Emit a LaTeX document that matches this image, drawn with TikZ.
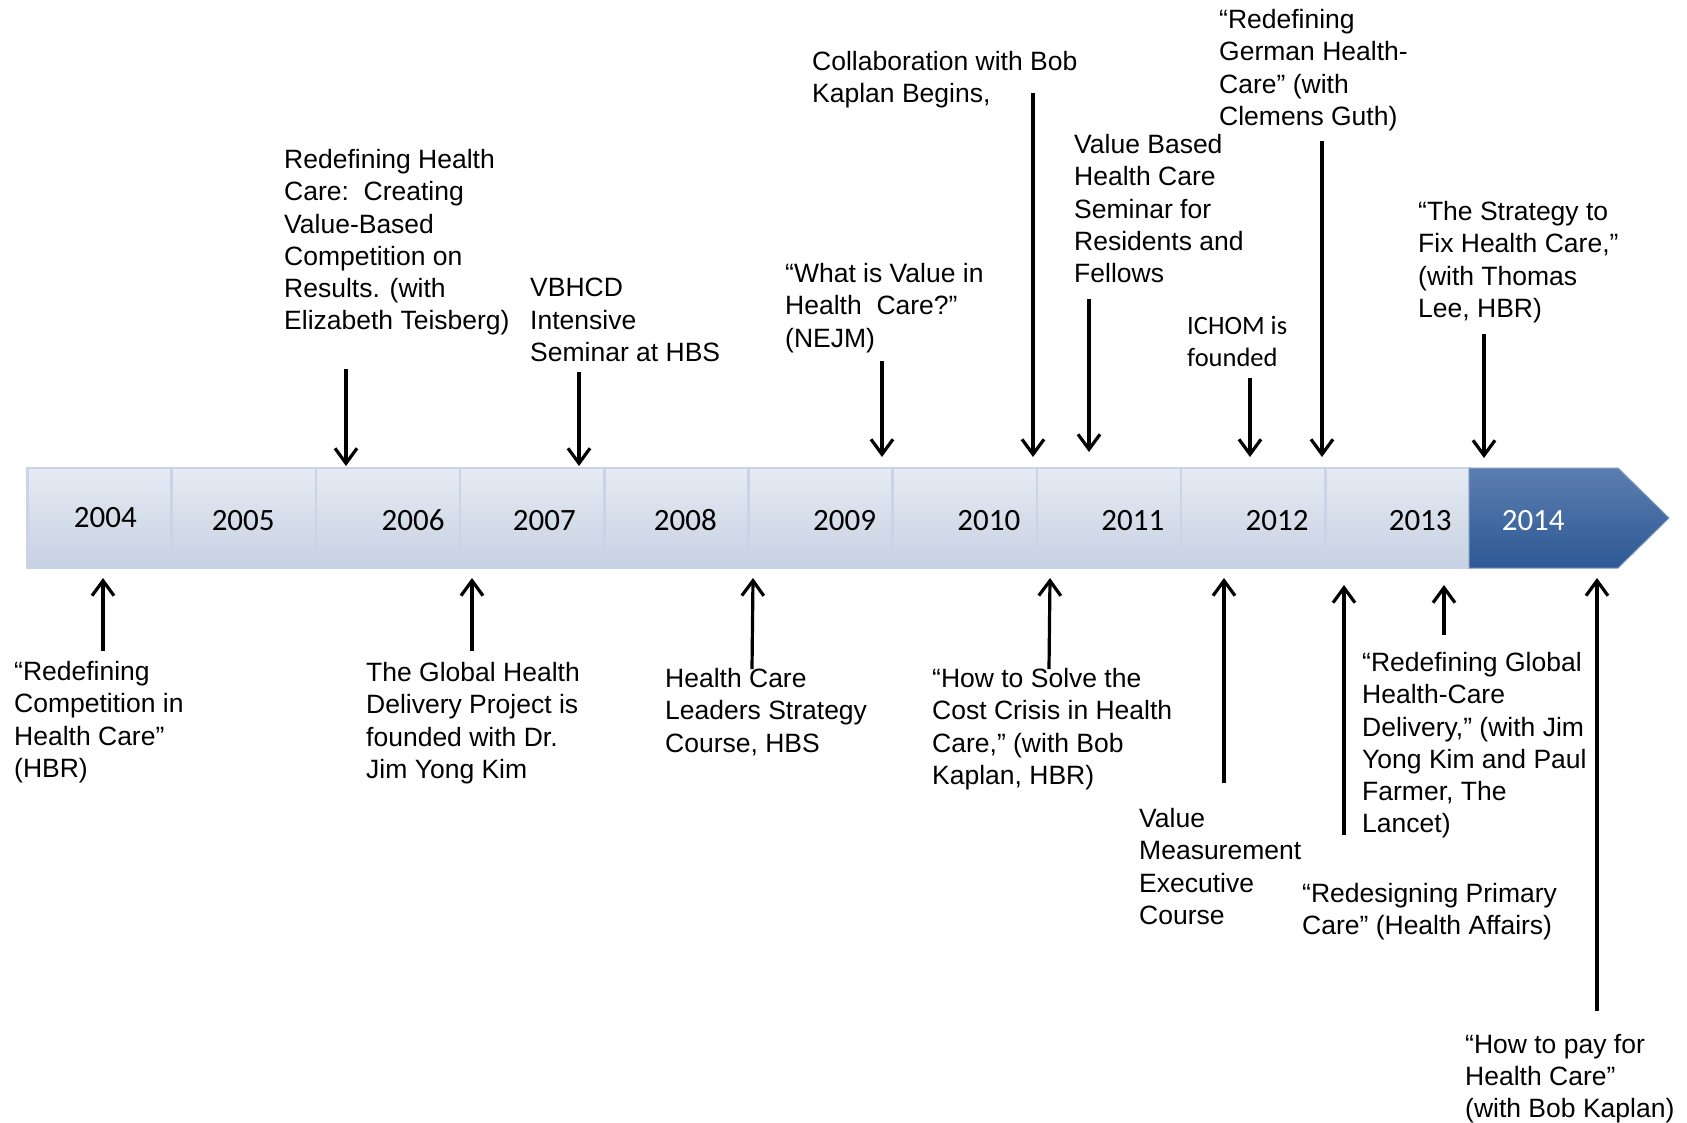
\documentclass[tikz,border=0pt]{standalone}
\usepackage{fontspec}
\setmainfont{Liberation Sans}
\newfontfamily\calib{Carlito}
\usetikzlibrary{arrows.meta}
\definecolor{segtop}{HTML}{E6EBF3}
\definecolor{segbot}{HTML}{C6D1E2}
\definecolor{segline}{HTML}{CAD4E8}
\definecolor{lasttop}{HTML}{5B7EB0}
\definecolor{lastbot}{HTML}{2D5894}
\begin{document}
\begin{tikzpicture}[x=1pt,y=-1pt,
  seg/.style={shape=rectangle, draw=segline, line width=2.5pt,
    top color=segtop, bottom color=segbot,
    minimum width=144.2pt, minimum height=100pt, inner sep=0pt},
  yr/.style={inner sep=0pt, anchor=center, font=\calib\fontsize{31}{36}\selectfont},
  lab/.style={anchor=north west, inner sep=0pt, align=left,
    font=\fontsize{26.5}{32.3}\selectfont},
  arr/.style={line width=3.2pt,
    -{Straight Barb[length=15pt,width=22pt,line width=3.2pt]}}]
\useasboundingbox (0,0) rectangle (1687,1122);

% timeline segments 2004-2013
\foreach \k/\yy in {0/2004,1/2005,2/2006,3/2007,4/2008,5/2009,6/2010,7/2011,8/2012,9/2013}{
  \node[seg] (s\yy) at ({27.5+144.2*\k+72.1},518) {};
}
% final arrow-shaped segment
\shade[top color=lasttop, bottom color=lastbot, draw=lasttop!80!white, line width=1pt]
  (1469,468) -- (1618,468) -- (1669,518) -- (1618,568) -- (1469,568) -- cycle;

% year labels
\foreach \yy/\xx/\yc in {2004/105.4/517.5,2005/243.2/520.5,2006/413.1/520.5,
  2007/544.4/520.5,2008/685.3/520.5,2009/844.6/520.5,2010/988.8/520.5,
  2011/1132.9/520.5,2012/1277.1/520.5,2013/1420.2/520.5}{
  \node[yr] (t\yy) at (\xx,\yc) {\yy};
}
\node[yr, text=white] (t2014) at (1533.2,520.5) {2014};

% events above the timeline
\node[lab] (e1) at (284,149) {Redefining Health\\Care:\ \ Creating\\Value-Based\\Competition on\\Results. (with\\Elizabeth Teisberg)};
\node[lab] (e2) at (530,278) {VBHCD\\Intensive\\Seminar at HBS};
\node[lab] (e3) at (785,263) {“What is Value in\\Health\ \ Care?”\\(NEJM)};
\node[lab] (e4) at (812,51) {Collaboration with Bob\\Kaplan Begins,};
\node[lab] (e5) at (1074,134) {Value Based\\Health Care\\Seminar for\\Residents and\\Fellows};
\node[lab] (e6) at (1219,9) {“Redefining\\German Health-\\Care” (with\\Clemens Guth)};
\node[lab, font=\calib\fontsize{26.5}{32.3}\selectfont] (e7) at (1187,316) {ICHOM is\\founded};
\node[lab] (e8) at (1418,201) {“The Strategy to\\Fix Health Care,”\\(with Thomas\\Lee, HBR)};

% events below the timeline
\node[lab] (f1) at (14,661) {“Redefining\\Competition in\\Health Care”\\(HBR)};
\node[lab] (f2) at (366,662) {The Global Health\\Delivery Project is\\founded with Dr.\\Jim Yong Kim};
\node[lab] (f3) at (665,668) {Health Care\\Leaders Strategy\\Course, HBS};
\node[lab] (f4) at (932,668) {“How to Solve the\\Cost Crisis in Health\\Care,” (with Bob\\Kaplan, HBR)};
\node[lab] (f5) at (1139,808) {Value\\Measurement\\Executive\\Course};
\node[lab] (f6) at (1302,883) {“Redesigning Primary\\Care” (Health Affairs)};
\node[lab] (f7) at (1362,652) {“Redefining Global\\Health-Care\\Delivery,” (with Jim\\Yong Kim and Paul\\Farmer, The\\Lancet)};
\node[lab] (f8) at (1465,1034) {“How to pay for\\Health Care”\\(with Bob Kaplan)};

% arrow end points
\coordinate (a1s) at (346,369);  \coordinate (a1e) at (346,466);
\coordinate (a2s) at (579,372);  \coordinate (a2e) at (579,466);
\coordinate (a3s) at (882,361);  \coordinate (a3e) at (882,457);
\coordinate (a4s) at (1033,93);  \coordinate (a4e) at (1033,457);
\coordinate (a5s) at (1089,299); \coordinate (a5e) at (1089,452);
\coordinate (a6s) at (1250,378); \coordinate (a6e) at (1250,457);
\coordinate (a7s) at (1322,141); \coordinate (a7e) at (1322,457);
\coordinate (a8s) at (1484,334); \coordinate (a8e) at (1484,458);

\coordinate (b1s) at (103,651);  \coordinate (b1e) at (103,578);
\coordinate (b2s) at (472,651);  \coordinate (b2e) at (472,578);
\coordinate (b3s) at (752,669);  \coordinate (b3e) at (753,578);
\coordinate (b4s) at (1049,669); \coordinate (b4e) at (1050,578);
\coordinate (b5s) at (1224,783); \coordinate (b5e) at (1224,578);
\coordinate (b6s) at (1344,835); \coordinate (b6e) at (1344,585);
\coordinate (b7s) at (1444,635); \coordinate (b7e) at (1444,585);
\coordinate (b8s) at (1597,1011);\coordinate (b8e) at (1597,578);

\foreach \n in {1,...,8}{
  \draw[arr] (a\n s) -- (a\n e);
  \draw[arr] (b\n s) -- (b\n e);
}
\end{tikzpicture}
\end{document}
